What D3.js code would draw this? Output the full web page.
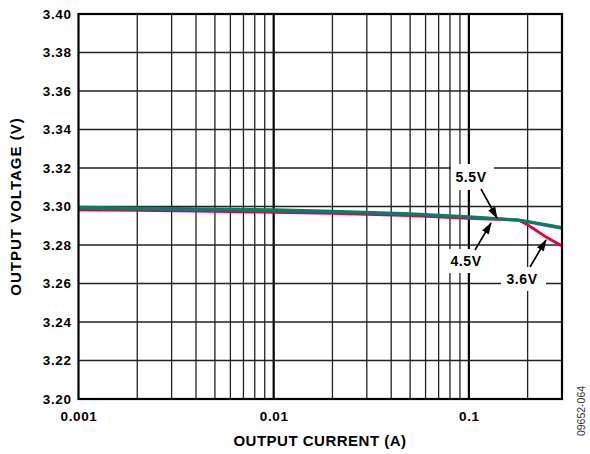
<!DOCTYPE html>
<html>
<head>
<meta charset="utf-8">
<script src="https://cdn.jsdelivr.net/npm/d3@7/dist/d3.min.js"></script>
<style>
  html, body { margin: 0; padding: 0; background: #fff; }
  svg { display: block; font-family: "Liberation Sans", Arial, sans-serif; }
</style>
</head>
<body>
<svg id="chart" width="590" height="454"></svg>
<script>
// Load-regulation curves: output voltage vs output current, one per input voltage
const current = [0.001, 0.002, 0.005, 0.01, 0.02, 0.05, 0.1, 0.15, 0.18, 0.2, 0.25, 0.3];
const vout55 = [3.2996, 3.2993, 3.2988, 3.2983, 3.2976, 3.2963, 3.2947, 3.2936, 3.2930, 3.2923, 3.2906, 3.2892];
const vout45 = [3.2990, 3.2987, 3.2982, 3.2977, 3.2971, 3.2959, 3.2943, 3.2934, 3.2929, 3.2920, 3.2901, 3.2887];
const vout36 = [3.2983, 3.2980, 3.2975, 3.2970, 3.2964, 3.2953, 3.2938, 3.2932, 3.2928, 3.2905, 3.2840, 3.2795];

const series = [
  { name: "3.6V", values: vout36, color: "#e4003a" },
  { name: "4.5V", values: vout45, color: "#4a4fa0" },
  { name: "5.5V", values: vout55, color: "#00845a" }
];

const xTicks = [0.001, 0.01, 0.1];
const xTickLabels = ["0.001", "0.01", "0.1"];
const yTicks = [3.20, 3.22, 3.24, 3.26, 3.28, 3.30, 3.32, 3.34, 3.36, 3.38, 3.40];

const svg = d3.select("#chart");
const plotL = 78.5, plotR = 562, plotT = 14, plotB = 399;

const x = d3.scaleLog().domain([0.001, 0.3]).range([plotL, plotR]);
const y = d3.scaleLinear().domain([3.20, 3.40]).range([plotB, plotT]);

// minor vertical grid (2..9 within each decade)
const minor = [];
[0.001, 0.01, 0.1].forEach(d => {
  for (let k = 2; k <= 9; k++) {
    const v = d * k;
    if (v < 0.3) minor.push(v);
  }
});

const grid = svg.append("g").attr("stroke", "#222");
grid.selectAll("line.minor").data(minor).join("line")
  .attr("x1", d => x(d)).attr("x2", d => x(d))
  .attr("y1", plotT).attr("y2", plotB)
  .attr("stroke-width", 1.3);
grid.selectAll("line.major").data([0.01, 0.1]).join("line")
  .attr("x1", d => x(d)).attr("x2", d => x(d))
  .attr("y1", plotT).attr("y2", plotB)
  .attr("stroke", "#000")
  .attr("stroke-width", 2.2);
grid.selectAll("line.h").data(yTicks.slice(1, -1)).join("line")
  .attr("x1", plotL).attr("x2", plotR)
  .attr("y1", d => y(d)).attr("y2", d => y(d))
  .attr("stroke-width", 1.3);

// curves
const line = d3.line()
  .x((d, i) => x(current[i]))
  .y(d => y(d));
svg.append("g").selectAll("path").data(series).join("path")
  .attr("d", d => line(d.values))
  .attr("fill", "none")
  .attr("stroke", d => d.color)
  .attr("stroke-width", 2.8)
  .attr("stroke-linejoin", "round");

// frame
svg.append("rect")
  .attr("x", plotL).attr("y", plotT)
  .attr("width", plotR - plotL).attr("height", plotB - plotT)
  .attr("fill", "none").attr("stroke", "#000").attr("stroke-width", 2.2);

// axes tick labels
const yAxis = d3.axisLeft(y).tickValues(yTicks).tickFormat(d3.format(".2f")).tickSize(0).tickPadding(7);
svg.append("g").attr("transform", `translate(${plotL},0)`).call(yAxis)
  .call(g => g.select(".domain").remove())
  .selectAll("text")
  .attr("font-size", 13.5).attr("font-weight", "bold").attr("fill", "#000")
  .attr("letter-spacing", 0.6)
  .attr("font-family", "Liberation Sans, Arial, sans-serif");

const xAxis = d3.axisBottom(x).tickValues(xTicks).tickFormat((d, i) => xTickLabels[i]).tickSize(0).tickPadding(12);
svg.append("g").attr("transform", `translate(0,${plotB})`).call(xAxis)
  .call(g => g.select(".domain").remove())
  .selectAll("text")
  .attr("font-size", 13.5).attr("font-weight", "bold").attr("fill", "#000")
  .attr("letter-spacing", 0.6)
  .attr("font-family", "Liberation Sans, Arial, sans-serif");

// axis titles
svg.append("text")
  .attr("x", 320).attr("y", 446)
  .attr("text-anchor", "middle")
  .attr("font-size", 15).attr("font-weight", "bold")
  .attr("letter-spacing", 0.5)
  .text("OUTPUT CURRENT (A)");
svg.append("text")
  .attr("transform", `translate(21,${(plotT + plotB) / 2}) rotate(-90)`)
  .attr("text-anchor", "middle")
  .attr("font-size", 15).attr("font-weight", "bold")
  .attr("letter-spacing", 1)
  .text("OUTPUT VOLTAGE (V)");

svg.append("text")
  .attr("transform", "translate(585,411) rotate(-90)")
  .attr("text-anchor", "middle")
  .attr("font-size", 10.5).attr("fill", "#333")
  .text("09652-064");

// callouts
const defs = svg.append("defs");
defs.append("marker")
  .attr("id", "arrowhead")
  .attr("viewBox", "0 0 12 8")
  .attr("refX", 11).attr("refY", 4)
  .attr("markerWidth", 12).attr("markerHeight", 8)
  .attr("markerUnits", "userSpaceOnUse")
  .attr("orient", "auto")
  .append("path").attr("d", "M0,0 L12,4 L0,8 Z").attr("fill", "#000");

const callouts = [
  { label: "5.5V", tx: 471, ty: 177, box: [451, 164, 43, 26], from: [481, 189], to: [497, 218] },
  { label: "4.5V", tx: 466, ty: 261, box: [447, 249, 40, 24], from: [475, 250], to: [491, 223] },
  { label: "3.6V", tx: 522, ty: 279, box: [501, 267, 45, 24], from: [530, 267], to: [546, 240] }
];
const cg = svg.append("g");
callouts.forEach(c => {
  cg.append("rect")
    .attr("x", c.box[0]).attr("y", c.box[1])
    .attr("width", c.box[2]).attr("height", c.box[3])
    .attr("fill", "#fff");
  cg.append("text")
    .attr("x", c.tx).attr("y", c.ty)
    .attr("text-anchor", "middle").attr("dominant-baseline", "central")
    .attr("font-size", 14).attr("font-weight", "bold")
    .attr("letter-spacing", 0.6)
    .text(c.label);
  cg.append("line")
    .attr("x1", c.from[0]).attr("y1", c.from[1])
    .attr("x2", c.to[0]).attr("y2", c.to[1])
    .attr("stroke", "#000").attr("stroke-width", 1.6)
    .attr("marker-end", "url(#arrowhead)");
});
</script>
</body>
</html>
